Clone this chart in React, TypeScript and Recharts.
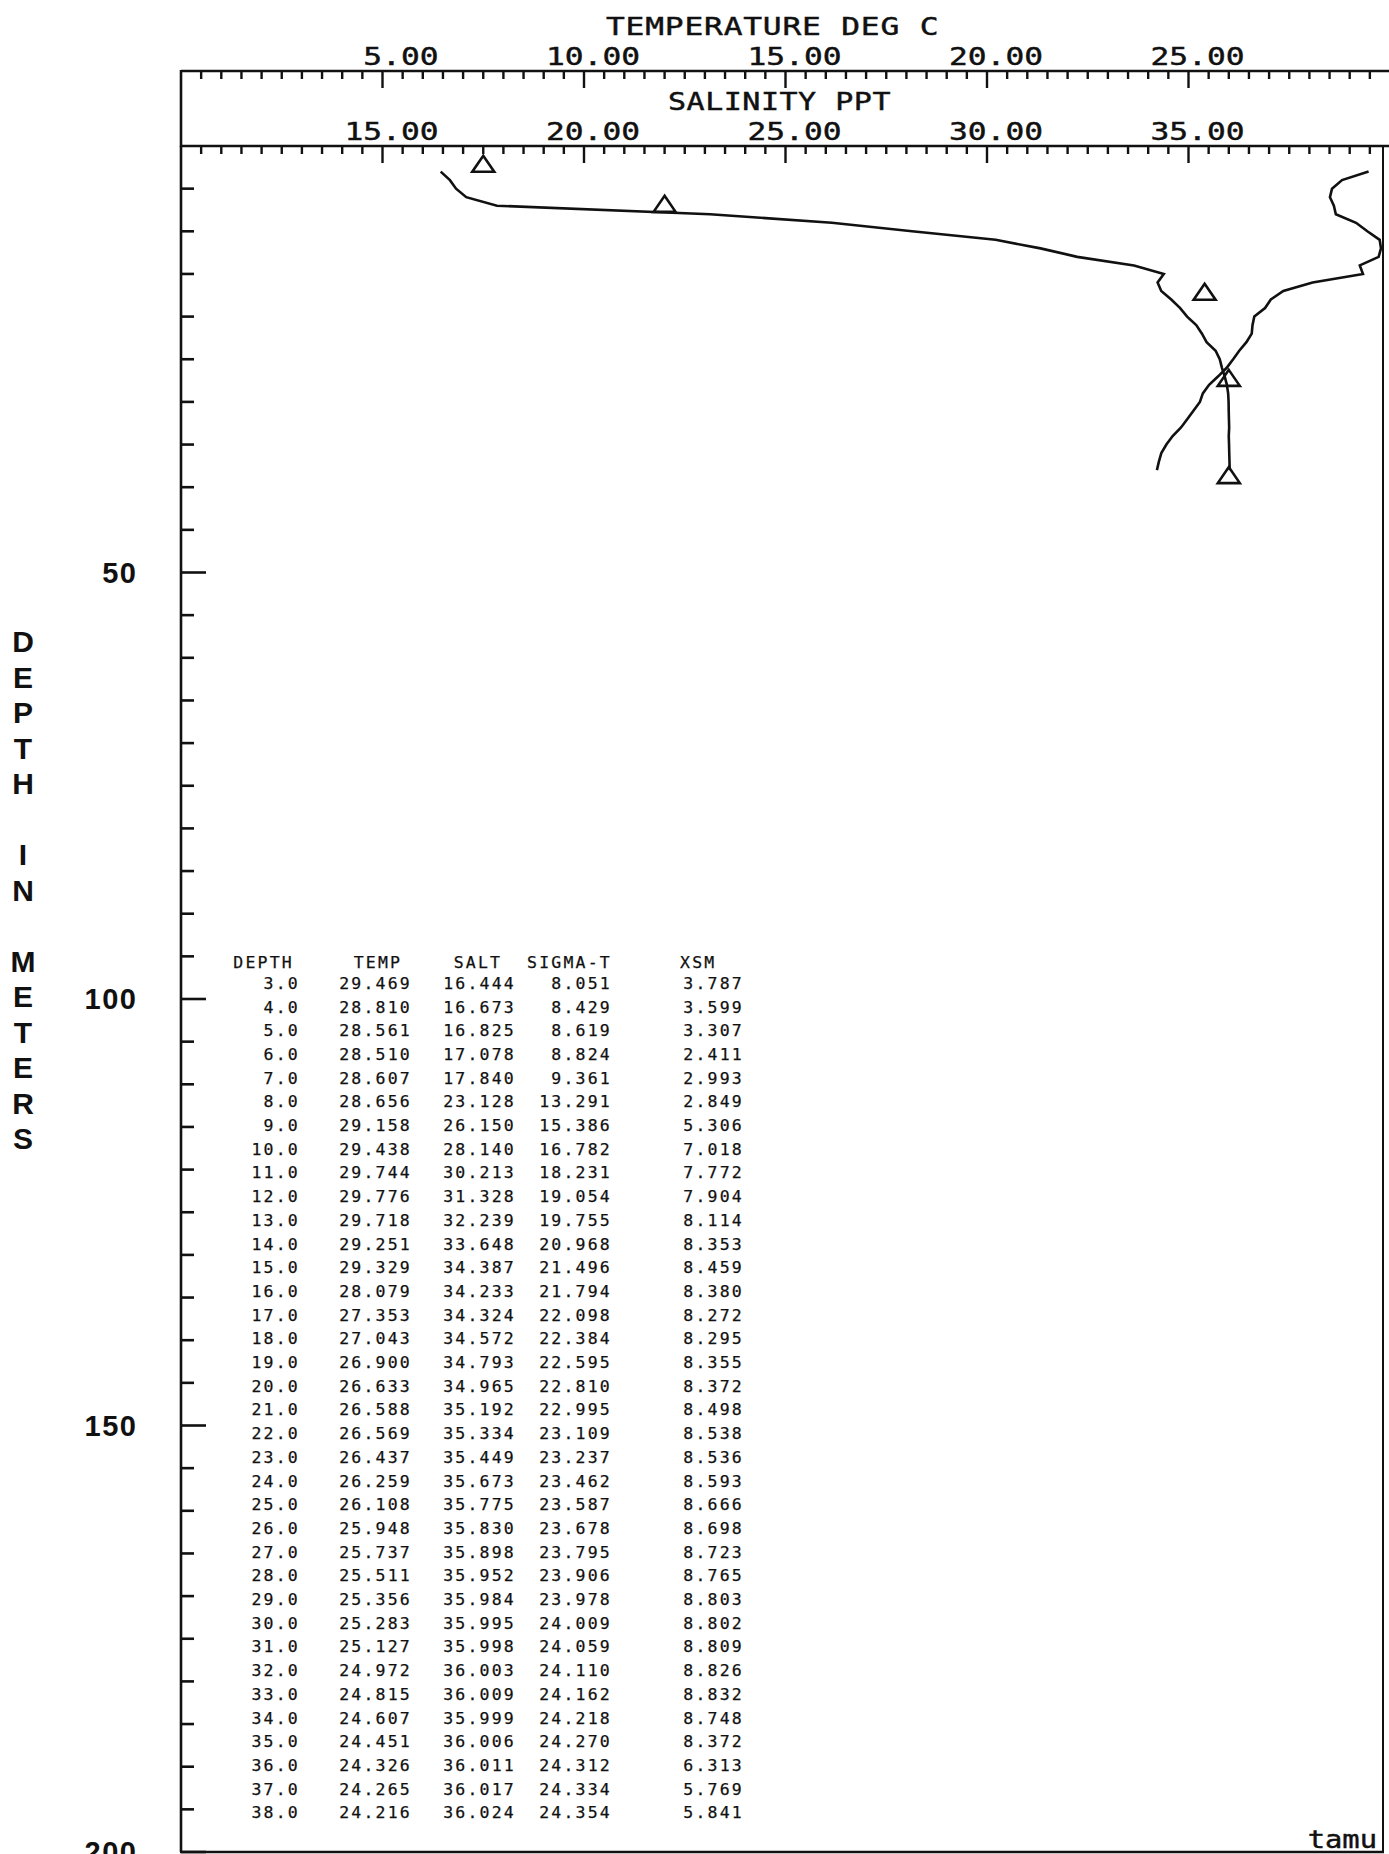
import React from "react";
import { ScatterChart, Scatter, XAxis, YAxis, Customized } from "recharts";

// station listing printed inside the plot (also the two profiles)
const DEPTH = [3, 4, 5, 6, 7, 8, 9, 10, 11, 12, 13, 14, 15, 16, 17, 18, 19, 20, 21, 22, 23, 24, 25, 26, 27, 28, 29, 30, 31, 32, 33, 34, 35, 36, 37, 38];
const TEMP = [29.469, 28.81, 28.561, 28.51, 28.607, 28.656, 29.158, 29.438, 29.744, 29.776, 29.718, 29.251, 29.329, 28.079, 27.353, 27.043, 26.9, 26.633, 26.588, 26.569, 26.437, 26.259, 26.108, 25.948, 25.737, 25.511, 25.356, 25.283, 25.127, 24.972, 24.815, 24.607, 24.451, 24.326, 24.265, 24.216];
const SALT = [16.444, 16.673, 16.825, 17.078, 17.84, 23.128, 26.15, 28.14, 30.213, 31.328, 32.239, 33.648, 34.387, 34.233, 34.324, 34.572, 34.793, 34.965, 35.192, 35.334, 35.449, 35.673, 35.775, 35.83, 35.898, 35.952, 35.984, 35.995, 35.998, 36.003, 36.009, 35.999, 36.006, 36.011, 36.017, 36.024];
const SIGMA_T = [8.051, 8.429, 8.619, 8.824, 9.361, 13.291, 15.386, 16.782, 18.231, 19.054, 19.755, 20.968, 21.496, 21.794, 22.098, 22.384, 22.595, 22.81, 22.995, 23.109, 23.237, 23.462, 23.587, 23.678, 23.795, 23.906, 23.978, 24.009, 24.059, 24.11, 24.162, 24.218, 24.27, 24.312, 24.334, 24.354];
const XSM = [3.787, 3.599, 3.307, 2.411, 2.993, 2.849, 5.306, 7.018, 7.772, 7.904, 8.114, 8.353, 8.459, 8.38, 8.272, 8.295, 8.355, 8.372, 8.498, 8.538, 8.536, 8.593, 8.666, 8.698, 8.723, 8.765, 8.803, 8.802, 8.809, 8.826, 8.832, 8.748, 8.372, 6.313, 5.769, 5.841];

// open triangles (discrete samples)
const SAMPLE_DEPTH = [2.2, 6.9, 17.2, 27.3, 38.7];
const SAMPLE_SALT = [17.5, 22.0, 35.4, 36.0, 36.0];

const TEMP_LABELS = [5, 10, 15, 20, 25];
const SALT_LABELS = [15, 20, 25, 30, 35];
const DEPTH_LABELS = [50, 100, 150, 200];

// minor tick marks every 0.5 unit / every 5 m
const TEMP_TICKS = Array.from({ length: 59 }, (_, i) => (i + 1) / 2);
const SALT_TICKS = TEMP_TICKS.map((t) => t + 10);
const DEPTH_TICKS = Array.from({ length: 40 }, (_, i) => (i + 1) * 5);

const tempProfile = DEPTH.map((d, i) => ({ depth: d, temp: TEMP[i] }));
const saltProfile = DEPTH.map((d, i) => ({ depth: d, salt: SALT[i] }));
const samples = SAMPLE_DEPTH.map((d, i) => ({ depth: d, salt: SAMPLE_SALT[i] }));

const INK = "#111";
const MONO = "'DejaVu Sans Mono', monospace";
const BOLD_SANS = "'Liberation Sans', Arial, sans-serif";

// plotter lettering is wider than any mono font we have, so stretch it a bit
const PText = ({ x, y, anchor = "start", size = 25, sx = 1.25, spacing = 0, length, children }: any) => (
  <text
    transform={`translate(${x},${y}) scale(${sx},1)`}
    textAnchor={anchor}
    fontFamily={MONO}
    fontSize={size}
    letterSpacing={spacing}
    textLength={length}
    lengthAdjust={length ? "spacing" : undefined}
    fill={INK}
    stroke={INK}
    strokeWidth={0.45}
  >
    {children}
  </text>
);

const TopTick = (props: any) => {
  const { x, y, payload, majors } = props;
  const major = majors.includes(payload.value);
  return (
    <g>
      <line x1={x} y1={y} x2={x} y2={y + (major ? 17 : 8)} stroke={INK} strokeWidth={2.4} />
      {major && (
        <PText x={x + 56} y={y - 6} anchor="end">
          {payload.value.toFixed(2)}
        </PText>
      )}
    </g>
  );
};

const DepthTick = (props: any) => {
  const { x, y, payload } = props;
  const major = DEPTH_LABELS.includes(payload.value);
  return (
    <g>
      <line x1={x} y1={y} x2={x + (major ? 25 : 13)} y2={y} stroke={INK} strokeWidth={2.6} />
      {major && (
        <text x={137.5} y={y} dy="0.36em" textAnchor="end" fontFamily={BOLD_SANS} fontWeight="bold" fontSize={29} letterSpacing={1.5} fill={INK}>
          {payload.value}
        </text>
      )}
    </g>
  );
};

const noDot = () => <g />;

const triangle = (p: any) => (
  <path d={`M${p.cx},${p.cy - 9} L${p.cx + 11},${p.cy + 7} L${p.cx - 11},${p.cy + 7} Z`} fill="none" stroke={INK} strokeWidth={2.6} />
);

const DEPTH_TITLE = "DEPTH IN METERS".split("");

// column right edges of the listing
const COLS = [298, 410, 514, 610, 742];
const HEAD_Y = 967.8;
const ROW0 = 988.8;
const ROW_STEP = 23.7;

const Overlay = () => (
  <g>
    {/* frame pieces outside the axes */}
    <line x1={181} y1={70} x2={181} y2={147} stroke={INK} strokeWidth={2.6} />
    <line x1={180} y1={1852} x2={1384} y2={1852} stroke={INK} strokeWidth={2.6} />
    <line x1={1383} y1={146} x2={1383} y2={1853} stroke={INK} strokeWidth={2} />

    <PText x={606} y={35} size={25} length={266}>
      TEMPERATURE DEG C
    </PText>
    <PText x={668} y={110} size={24} length={178}>
      SALINITY PPT
    </PText>

    {DEPTH_TITLE.map((c, i) =>
      c === " " ? null : (
        <text key={i} x={23} y={652 + i * 35.5} textAnchor="middle" fontFamily={BOLD_SANS} fontWeight="bold" fontSize={30} fill={INK}>
          {c}
        </text>
      )
    )}

    <g fontFamily={MONO} fontSize={16.5} letterSpacing={2.2} fill={INK} stroke={INK} strokeWidth={0.25}>
      <text x={COLS[0] - 4} y={HEAD_Y} textAnchor="end">DEPTH</text>
      <text x={COLS[1] - 32} y={HEAD_Y} textAnchor="middle">TEMP</text>
      <text x={COLS[2] - 36} y={HEAD_Y} textAnchor="middle">SALT</text>
      <text x={COLS[3] + 2} y={HEAD_Y} textAnchor="end">SIGMA-T</text>
      <text x={COLS[4] - 62} y={HEAD_Y}>XSM</text>
      {DEPTH.map((d, i) => {
        const y = ROW0 + i * ROW_STEP;
        return (
          <g key={d}>
            <text x={COLS[0] + 2} y={y} textAnchor="end">{d.toFixed(1)}</text>
            <text x={COLS[1] + 2} y={y} textAnchor="end">{TEMP[i].toFixed(3)}</text>
            <text x={COLS[2] + 2} y={y} textAnchor="end">{SALT[i].toFixed(3)}</text>
            <text x={COLS[3] + 2} y={y} textAnchor="end">{SIGMA_T[i].toFixed(3)}</text>
            <text x={COLS[4] + 2} y={y} textAnchor="end">{XSM[i].toFixed(3)}</text>
          </g>
        );
      })}
    </g>

    <PText x={1377} y={1848} anchor="end" size={24} sx={1.2}>
      tamu
    </PText>
  </g>
);

export default function App() {
  return (
    <div style={{ position: "absolute", left: 0, top: 0, width: 1389, height: 1854, overflow: "hidden", background: "#fff" }}>
      <ScatterChart width={1390} height={1854} margin={{ top: 0, right: 0, bottom: 2, left: 0 }}>
        <XAxis
          xAxisId="salt"
          orientation="top"
          type="number"
          dataKey="salt"
          domain={[10, 40]}
          allowDataOverflow
          height={75}
          ticks={SALT_TICKS}
          interval={0}
          tickSize={0}
          tickMargin={0}
          tickLine={false}
          axisLine={{ stroke: INK, strokeWidth: 2.6 }}
          tick={(p: any) => <TopTick {...p} majors={SALT_LABELS} />}
        />
        <XAxis
          xAxisId="temp"
          orientation="top"
          type="number"
          dataKey="temp"
          domain={[0, 30]}
          allowDataOverflow
          height={71}
          ticks={TEMP_TICKS}
          interval={0}
          tickSize={0}
          tickMargin={0}
          tickLine={false}
          axisLine={{ stroke: INK, strokeWidth: 2.6 }}
          tick={(p: any) => <TopTick {...p} majors={TEMP_LABELS} />}
        />
        <YAxis
          yAxisId="depth"
          type="number"
          dataKey="depth"
          domain={[0, 200]}
          reversed
          width={181}
          ticks={DEPTH_TICKS}
          interval={0}
          tickSize={0}
          tickMargin={0}
          tickLine={false}
          axisLine={{ stroke: INK, strokeWidth: 2.6 }}
          tick={(p: any) => <DepthTick {...p} />}
        />
        <Scatter
          name="temperature"
          data={tempProfile}
          xAxisId="temp"
          yAxisId="depth"
          line={{ stroke: INK, strokeWidth: 2.6 }}
          shape={noDot}
          isAnimationActive={false}
        />
        <Scatter
          name="salinity"
          data={saltProfile}
          xAxisId="salt"
          yAxisId="depth"
          line={{ stroke: INK, strokeWidth: 2.6 }}
          shape={noDot}
          isAnimationActive={false}
        />
        <Scatter
          name="samples"
          data={samples}
          xAxisId="salt"
          yAxisId="depth"
          shape={triangle}
          isAnimationActive={false}
        />
        <Customized component={Overlay} />
      </ScatterChart>
    </div>
  );
}
